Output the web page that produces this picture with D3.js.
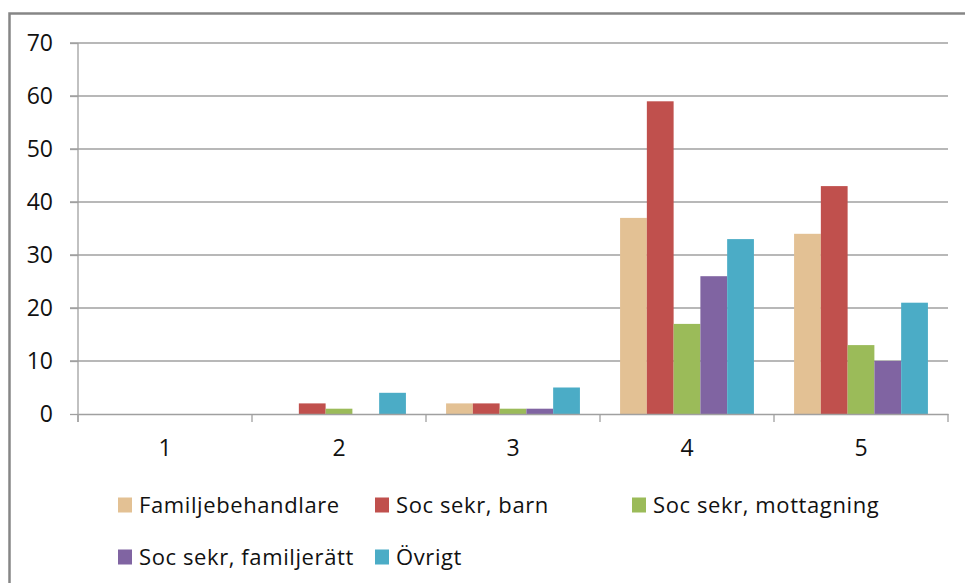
<!DOCTYPE html>
<html>
<head>
<meta charset="utf-8">
<script src="https://cdn.jsdelivr.net/npm/d3@7"></script>
<style>
  body { margin: 0; background: #fff; }
  svg { display: block; }
</style>
</head>
<body>
<svg id="chart"></svg>
<script>
var categories = ['1', '2', '3', '4', '5'];
var seriesNames = ['Familjebehandlare', 'Soc sekr, barn', 'Soc sekr, mottagning', 'Soc sekr, familjerätt', 'Övrigt'];
var familjebehandlare = [0, 0, 2, 37, 34];
var socBarn = [0, 2, 2, 59, 43];
var socMottagning = [0, 1, 1, 17, 13];
var socFamiljeratt = [0, 0, 1, 26, 10];
var ovrigt = [0, 4, 5, 33, 21];
var yTicks = [0, 10, 20, 30, 40, 50, 60, 70];
var colors = ['#E3C194', '#C0504D', '#9BBB59', '#8064A2', '#4BACC6'];

var seriesValues = [familjebehandlare, socBarn, socMottagning, socFamiljeratt, ovrigt];

var width = 965, height = 583,
  margin = {left: 78, right: 17, top: 43, bottom: 169};

var svg = d3.select('#chart')
  .attr('width', width)
  .attr('height', height);

// outer frame (right and bottom edges fall outside the picture)
svg.append('rect')
  .attr('x', 9.5).attr('y', 13.5)
  .attr('width', 980).attr('height', 600)
  .attr('fill', 'none')
  .attr('stroke', '#868686')
  .attr('stroke-width', 2.5);

var x0 = d3.scaleBand()
  .domain(categories)
  .range([margin.left, width - margin.right]);

var x1 = d3.scaleBand()
  .domain(d3.range(seriesNames.length))
  .range([0, x0.bandwidth()])
  .paddingOuter(0.75)
  .paddingInner(0);

var y = d3.scaleLinear()
  .domain([0, 70])
  .range([height - margin.bottom, margin.top]);

// gridlines
svg.append('g')
  .selectAll('line')
  .data(yTicks.filter(function (d) { return d > 0; }))
  .enter().append('line')
  .attr('x1', margin.left - 8)
  .attr('x2', width - margin.right)
  .attr('y1', function (d) { return y(d); })
  .attr('y2', function (d) { return y(d); })
  .attr('stroke', '#a0a0a0')
  .attr('stroke-width', 1.3);

// bars
var groups = svg.append('g')
  .selectAll('g')
  .data(seriesValues)
  .enter().append('g')
  .attr('fill', function (d, i) { return colors[i]; });

groups.each(function (vals, si) {
  d3.select(this).selectAll('rect')
    .data(vals)
    .enter().append('rect')
    .attr('x', function (d, ci) { return x0(categories[ci]) + x1(si); })
    .attr('y', function (d) { return y(d); })
    .attr('width', x1.bandwidth())
    .attr('height', function (d) { return y(0) - y(d); });
});

// y axis
var yAxis = svg.append('g')
  .attr('transform', 'translate(' + margin.left + ',0)')
  .call(d3.axisLeft(y).tickValues(yTicks).tickSize(8).tickPadding(17));

// x axis
var xAxis = svg.append('g')
  .attr('transform', 'translate(0,' + y(0) + ')')
  .call(d3.axisBottom(x0).tickSize(0).tickPadding(26));

// category boundary ticks
var bounds = categories.map(function (c) { return x0(c); })
  .concat([x0(categories[categories.length - 1]) + x0.bandwidth()]);

xAxis.selectAll('.bound')
  .data(bounds)
  .enter().append('line')
  .attr('class', 'bound')
  .attr('x1', function (d) { return d; })
  .attr('x2', function (d) { return d; })
  .attr('y1', 0).attr('y2', 8)
  .attr('stroke', '#a0a0a0')
  .attr('stroke-width', 1.3);

[yAxis, xAxis].forEach(function (ax) {
  ax.select('.domain').attr('stroke', '#a0a0a0').attr('stroke-width', 1.3);
  ax.selectAll('.tick line').attr('stroke', '#a0a0a0').attr('stroke-width', 1.3);
  ax.selectAll('.tick text')
    .attr('fill', '#111')
    .style('font-family', '"Open Sans", sans-serif')
    .style('font-size', '23px');
});
yAxis.select('.domain').attr('d', 'M0,' + y(70) + 'V' + (y(0) + 8));

// legend: 3 columns, 2 rows
var legendX = d3.scalePoint().domain([0, 1, 2]).range([118, 632]);
var legendY = d3.scalePoint().domain([0, 1]).range([505, 557]);

var legend = svg.append('g')
  .selectAll('g')
  .data(seriesNames)
  .enter().append('g')
  .attr('transform', function (d, i) {
    return 'translate(' + legendX(i % 3) + ',' + legendY(Math.floor(i / 3)) + ')';
  });

legend.append('rect')
  .attr('x', 0).attr('y', -7.5)
  .attr('width', 14).attr('height', 15)
  .attr('fill', function (d, i) { return colors[i]; });

legend.append('text')
  .attr('x', 21)
  .attr('dy', '0.36em')
  .style('font-family', '"Open Sans", sans-serif')
  .style('font-size', '22px')
  .style('letter-spacing', '0.6px')
  .attr('fill', '#111')
  .text(function (d) { return d; });
</script>
</body>
</html>
